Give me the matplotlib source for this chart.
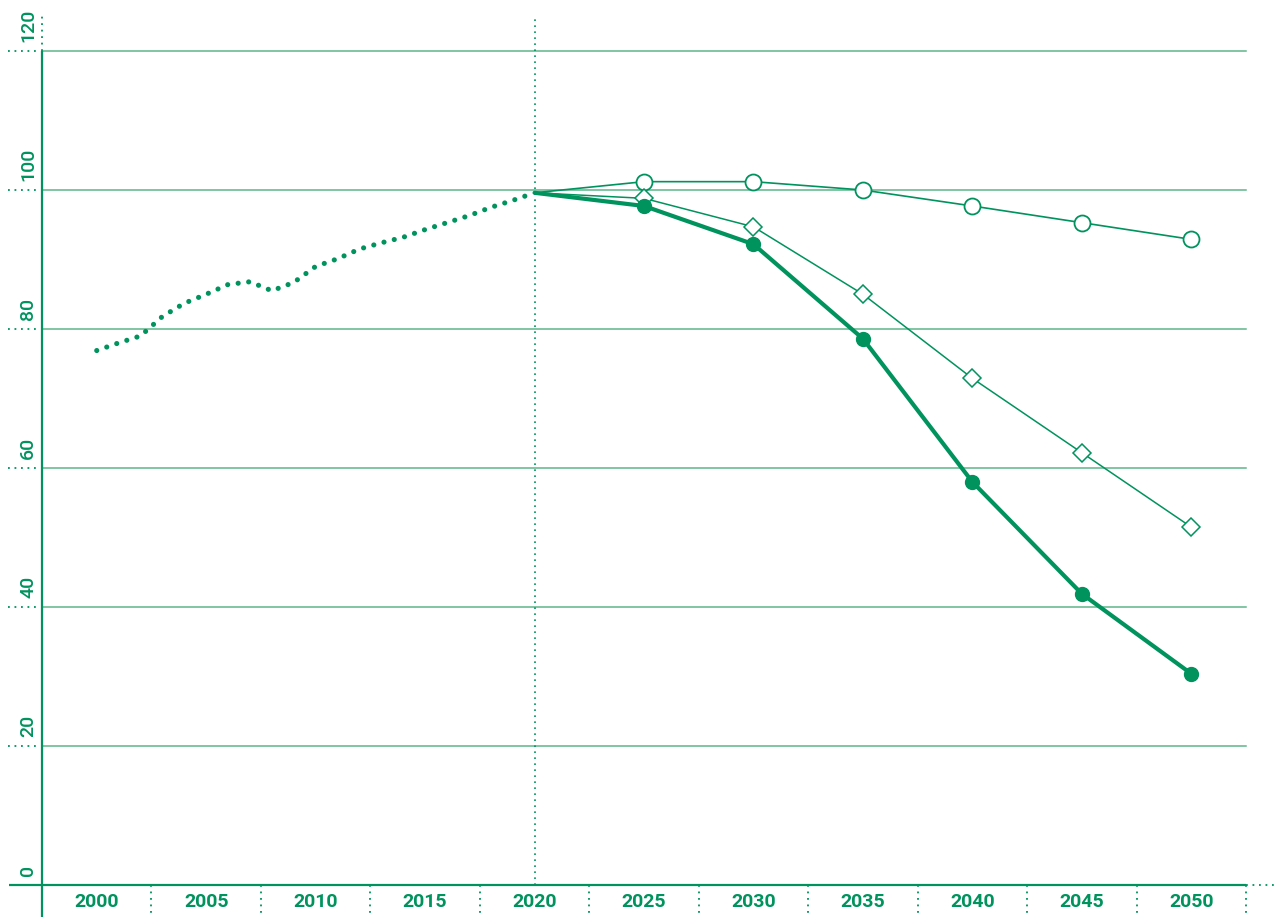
import matplotlib
matplotlib.use("Agg")
import matplotlib.pyplot as plt

# ---------------- data ----------------
hist_years = list(range(2000, 2021))
hist_values = [76.9, 78.0, 79.0, 81.8, 83.7, 85.0, 86.4, 86.8, 85.5, 86.7,
               89.0, 90.1, 91.5, 92.4, 93.2, 94.3, 95.3, 96.3, 97.5, 98.5, 99.6]

proj_years = [2020, 2025, 2030, 2035, 2040, 2045, 2050]
circle_values = [99.6, 101.2, 101.2, 100.0, 97.7, 95.3, 92.9]
diamond_values = [99.6, 98.8, 94.7, 85.0, 72.9, 62.2, 51.5]
filled_values = [99.6, 97.7, 92.2, 78.6, 58.0, 41.9, 30.4]

x_ticks = [2000, 2005, 2010, 2015, 2020, 2025, 2030, 2035, 2040, 2045, 2050]
x_labels = [str(y) for y in x_ticks]
y_ticks = [0, 20, 40, 60, 80, 100, 120]
y_labels = [str(v) for v in y_ticks]

GREEN = "#00935E"
GRID = "#5DB58C"

W, H = 1277, 917
fig = plt.figure(figsize=(W / 100, H / 100), dpi=100)
ax_left, ax_right, ax_top, ax_bottom = 42, 1246, 51, 885
ax = fig.add_axes([ax_left / W, 1 - ax_bottom / H,
                   (ax_right - ax_left) / W, (ax_bottom - ax_top) / H])
ax.set_xlim(1997.5, 2052.5)
ax.set_ylim(0, 120)
for s in ax.spines.values():
    s.set_visible(False)
ax.set_xticks([])
ax.set_yticks([])

px_per_year = (ax_right - ax_left) / 55.0
px_per_unit = (ax_bottom - ax_top) / 120.0

# gridlines
for v in y_ticks[1:]:
    ax.plot([1997.5, 2052.5], [v, v], color=GRID, lw=1.1, zorder=1, clip_on=False)

# left spine (solid) extending below axis, dotted above
y_low = -(H - ax_bottom) / px_per_unit
y_high = 120 + (ax_top - 15) / px_per_unit
ax.plot([1997.5, 1997.5], [y_low, 120], color=GREEN, lw=1.6, clip_on=False, zorder=3,
        solid_capstyle="butt")
ax.plot([1997.5, 1997.5], [120, y_high], color=GREEN, lw=1.3, ls=(0, (1, 2.6)),
        clip_on=False, zorder=3)

# bottom axis line: solid then dotted extension
x_start = 1997.5 - (ax_left - 9) / px_per_year
x_end_dot = 1997.5 + (W - ax_left) / px_per_year
ax.plot([x_start, 2052.5], [0, 0], color=GREEN, lw=1.6, clip_on=False, zorder=3,
        solid_capstyle="butt")
ax.plot([2052.5, x_end_dot], [0, 0], color=GREEN, lw=1.3, ls=(0, (1, 2.6)),
        clip_on=False, zorder=3)

# horizontal dotted tick marks left of the axis
x_tick_start = 1997.5 - (ax_left - 8) / px_per_year
x_tick_end = 1997.5 - 3 / px_per_year
for v in y_ticks[1:]:
    ax.plot([x_tick_start, x_tick_end], [v, v], color=GREEN, lw=1.3, ls=(0, (1, 2.6)),
            clip_on=False, zorder=3)

# y labels (rotated)
lab_x = 1997.5 - (ax_left - 28) / px_per_year
for v, t in zip(y_ticks, y_labels):
    ax.text(lab_x, v + 9 / px_per_unit, t, rotation=90, ha="center", va="bottom",
            color=GREEN, fontsize=14, family="Roboto", fontweight="medium",
            clip_on=False)

# category separators below axis
for i in range(len(x_ticks)):
    xs = x_ticks[i] + 2.5
    ax.plot([xs, xs], [0, y_low], color=GREEN, lw=1.3, ls=(0, (1, 2.6)),
            clip_on=False, zorder=3)

# x labels
for xv, t in zip(x_ticks, x_labels):
    ax.text(xv, -(902 - ax_bottom) / px_per_unit, t, ha="center", va="center",
            color=GREEN, fontsize=14, family="Roboto", fontweight="semibold",
            clip_on=False)

# 2020 vertical dotted line
ax.plot([2020, 2020], [0, y_high], color=GREEN, lw=1.2, ls=(0, (1, 2.6)),
        clip_on=False, zorder=2)

# historical dotted line
ax.plot(hist_years, hist_values, color=GREEN, lw=3.7, ls=(0, (0.01, 2.05)),
        dash_capstyle="round", zorder=4, clip_on=False)

# projections
ax.plot(proj_years, circle_values, color=GREEN, lw=1.2, zorder=5)
ax.plot(proj_years[1:], circle_values[1:], ls="none", marker="o", ms=11.5,
        mfc="white", mec=GREEN, mew=1.3, zorder=6)

ax.plot(proj_years, diamond_values, color=GREEN, lw=1.1, zorder=5)
ax.plot(proj_years[1:], diamond_values[1:], ls="none", marker="D", ms=9.5,
        mfc="white", mec=GREEN, mew=1.1, zorder=7)

ax.plot(proj_years, filled_values, color=GREEN, lw=3.0, zorder=5,
        solid_capstyle="round")
ax.plot(proj_years[1:], filled_values[1:], ls="none", marker="o", ms=10,
        mfc=GREEN, mec=GREEN, zorder=8)

fig.savefig("out.png", dpi=100)
